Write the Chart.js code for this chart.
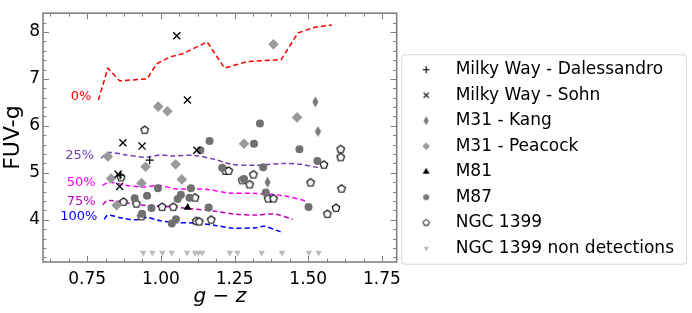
<!DOCTYPE html>
<html>
<head>
<meta charset="utf-8">
<script src="https://cdn.jsdelivr.net/npm/chart.js@4.4.0/dist/chart.umd.min.js"></script>
<style>
  html, body { margin: 0; padding: 0; background: #fff; }
  #wrap { width: 692px; height: 313px; }
</style>
</head>
<body>
<div id="wrap"><canvas id="myChart"></canvas></div>
<script>
// values: g-z (x) and FUV-g (y)
const dalessandroX = [0.862, 0.962]
const dalessandroY = [4.95, 5.27]

const sohnX = [1.054, 1.090, 0.871, 0.936, 1.122, 0.860, 0.855]
const sohnY = [7.92, 6.55, 5.64, 5.57, 5.48, 4.71, 4.97]

const kangX = [1.524, 1.533, 1.362]
const kangY = [6.51, 5.88, 4.80]

const peacockX = [1.382, 0.991, 1.022, 0.820, 0.948, 1.050, 0.831, 0.934, 1.071, 1.462, 1.282, 0.850]
const peacockY = [7.74, 6.41, 6.31, 5.35, 5.13, 5.18, 4.88, 4.78, 4.86, 6.18, 5.62, 4.31]

const m81X = [1.091]
const m81Y = [4.26]

const m87X = [1.165, 1.134, 1.336, 1.316, 1.470, 1.531, 1.347, 1.208, 1.282, 1.356, 1.501,
              0.990, 0.911, 0.953, 0.968, 0.936, 1.037, 1.051, 1.057, 1.068, 1.102, 1.097, 1.162]
const m87Y = [5.68, 5.48, 6.05, 5.62, 5.50, 5.25, 5.12, 5.11, 4.87, 4.58, 4.27,
              4.67, 4.46, 4.51, 4.25, 4.13, 3.92, 4.01, 4.44, 4.53, 4.67, 4.47, 4.26]

const ngcX = [0.945, 1.610, 1.610, 1.553, 1.508, 1.613, 1.314, 1.276, 1.301, 1.364, 1.382, 1.565, 1.594,
              1.219, 1.230, 0.865, 0.873, 0.917, 0.934, 1.004, 1.042, 1.116, 1.120, 1.130, 1.171]
const ngcY = [5.91, 5.50, 5.33, 5.17, 4.79, 4.66, 4.96, 4.84, 4.75, 4.45, 4.45, 4.12, 4.25,
              5.04, 5.04, 4.90, 4.38, 4.34, 4.07, 4.27, 4.27, 4.47, 3.97, 3.96, 4.00]

const nonDetX = [0.940, 0.971, 1.005, 1.037, 1.089, 1.116, 1.127, 1.140, 1.234, 1.260, 1.342, 1.411, 1.502, 1.535]
const nonDetY = [3.30, 3.30, 3.30, 3.30, 3.30, 3.30, 3.30, 3.30, 3.30, 3.30, 3.30, 3.30, 3.30, 3.30]

// completeness curves
const curveLabels = ['0%', '25%', '50%', '75%', '100%']
const curve0X = [0.788, 0.820, 0.860, 0.953, 0.985, 1.031, 1.076, 1.157, 1.216, 1.293, 1.408, 1.465, 1.522, 1.580]
const curve0Y = [6.55, 7.23, 6.96, 7.00, 7.32, 7.47, 7.54, 7.79, 7.23, 7.37, 7.41, 7.98, 8.10, 8.15]
const curve25X = [0.797, 0.820, 0.883, 0.951, 0.997, 1.037, 1.116, 1.185, 1.242, 1.322, 1.419, 1.476, 1.533]
const curve25Y = [5.31, 5.43, 5.38, 5.33, 5.38, 5.36, 5.37, 5.28, 5.18, 5.16, 5.20, 5.18, 5.11]
const curve50X = [0.802, 0.825, 0.883, 0.939, 0.997, 1.048, 1.151, 1.230, 1.322, 1.419, 1.493]
const curve50Y = [4.73, 4.80, 4.73, 4.70, 4.73, 4.66, 4.65, 4.57, 4.56, 4.51, 4.40]
const curve75X = [0.802, 0.820, 0.883, 0.951, 0.997, 1.093, 1.185, 1.253, 1.322, 1.385, 1.448]
const curve75Y = [4.32, 4.41, 4.36, 4.30, 4.29, 4.24, 4.18, 4.12, 4.10, 4.12, 4.01]
const curve100X = [0.808, 0.820, 0.871, 0.917, 0.951, 0.997, 1.048, 1.116, 1.185, 1.242, 1.322, 1.350, 1.408]
const curve100Y = [4.01, 4.10, 4.03, 4.00, 4.05, 3.98, 3.94, 3.93, 3.88, 3.82, 3.83, 3.86, 3.74]

const xTicks = [0.75, 1.00, 1.25, 1.50, 1.75]
const yTicks = [4, 5, 6, 7, 8]

const curveXs = [curve0X, curve25X, curve50X, curve75X, curve100X]
const curveYs = [curve0Y, curve25Y, curve50Y, curve75Y, curve100Y]
const curveColors = ['#ff0000', '#7040b4', '#ff00ff', '#bf00bf', '#0000ff']

const toPts = (xs, ys) => xs.map((x, i) => ({x, y: ys[i]}))

// small canvas markers for shapes Chart.js does not have
function shape(kind, r, fill, stroke, lw) {
  const s = Math.ceil(2 * r + 4)
  const c = document.createElement('canvas')
  c.width = s
  c.height = s
  const g = c.getContext('2d')
  const m = s / 2
  g.beginPath()
  if (kind === 'plus') {
    g.moveTo(m - r, m); g.lineTo(m + r, m); g.moveTo(m, m - r); g.lineTo(m, m + r)
  } else if (kind === 'cross') {
    const d = r * 0.75
    g.moveTo(m - d, m - d); g.lineTo(m + d, m + d); g.moveTo(m + d, m - d); g.lineTo(m - d, m + d)
  } else if (kind === 'thin') {
    g.moveTo(m, m - r); g.lineTo(m + r * 0.55, m); g.lineTo(m, m + r); g.lineTo(m - r * 0.55, m); g.closePath()
  } else if (kind === 'diamond') {
    g.moveTo(m, m - r); g.lineTo(m + r, m); g.lineTo(m, m + r); g.lineTo(m - r, m); g.closePath()
  } else if (kind === 'circle') {
    g.arc(m, m, r, 0, 2 * Math.PI)
  } else {
    const n = kind === 'pentagon' ? 5 : 3
    const a0 = kind === 'triDown' ? Math.PI / 2 : -Math.PI / 2
    for (let i = 0; i < n; i++) {
      const a = a0 + i * 2 * Math.PI / n
      g.lineTo(m + r * Math.cos(a), m + r * Math.sin(a))
    }
    g.closePath()
  }
  if (fill) { g.fillStyle = fill; g.fill() }
  if (stroke) { g.strokeStyle = stroke; g.lineWidth = lw || 1; g.stroke() }
  return c
}

const legendMarks = [
  shape('plus', 3.5, null, '#000', 1.2),
  shape('cross', 3.5, null, '#000', 1.2),
  shape('thin', 4.5, '#777', null),
  shape('diamond', 3.8, '#999', null),
  shape('triUp', 4, '#000', null),
  shape('circle', 3, '#777', null),
  shape('pentagon', 3.3, '#fff', '#000', 1),
  shape('triDown', 3.2, '#bbb', null)
]

const scatterSets = [
  {label: 'Milky Way - Dalessandro', data: toPts(dalessandroX, dalessandroY),
   pointStyle: 'cross', pointRadius: 4, borderColor: '#000', backgroundColor: '#000', pointBorderWidth: 1.3},
  {label: 'Milky Way - Sohn', data: toPts(sohnX, sohnY),
   pointStyle: 'crossRot', pointRadius: 5, borderColor: '#000', backgroundColor: '#000', pointBorderWidth: 1.3},
  {label: 'M31 - Kang', data: toPts(kangX, kangY),
   pointStyle: shape('thin', 5.5, '#777', null), pointRadius: 5, borderColor: '#777', backgroundColor: '#777'},
  {label: 'M31 - Peacock', data: toPts(peacockX, peacockY),
   pointStyle: 'rectRot', pointRadius: 5.3, borderColor: '#999', backgroundColor: '#999', pointBorderWidth: 0},
  {label: 'M81', data: toPts(m81X, m81Y),
   pointStyle: 'triangle', pointRadius: 4.5, borderColor: '#000', backgroundColor: '#000', pointBorderWidth: 0},
  {label: 'M87', data: toPts(m87X, m87Y),
   pointStyle: 'circle', pointRadius: 4, borderColor: '#707070', backgroundColor: '#707070', pointBorderWidth: 0},
  {label: 'NGC 1399', data: toPts(ngcX, ngcY),
   pointStyle: shape('pentagon', 4, '#fff', '#000', 1.1), pointRadius: 4, borderColor: '#000', backgroundColor: '#fff'},
  {label: 'NGC 1399 non detections', data: toPts(nonDetX, nonDetY),
   pointStyle: 'triangle', rotation: 180, pointRadius: 3.8, borderColor: '#bbb', backgroundColor: '#bbb', pointBorderWidth: 0}
]

const curveSets = curveXs.map((xs, i) => ({
  label: curveLabels[i],
  data: toPts(xs, curveYs[i]),
  showLine: true,
  borderColor: curveColors[i],
  borderWidth: 1.5,
  borderDash: [5, 3],
  pointRadius: 0,
  tension: i === 0 ? 0 : 0.3,
  fill: false
}))

const font = 'DejaVu Sans'

// frame, inward ticks on four sides, curve labels, legend box
const framePlugin = {
  id: 'frame',
  afterDatasetsDraw(chart) {
    const {ctx, chartArea: a, scales: {x, y}} = chart
    ctx.save()
    ctx.strokeStyle = '#808080'
    ctx.lineWidth = 1
    const majorLen = 6, minorLen = 3.5
    ctx.beginPath()
    for (let v = 0.625; v < 1.8; v += 0.0625) {
      const px = Math.round(x.getPixelForValue(v)) + 0.5
      const len = xTicks.some(t => Math.abs(t - v) < 1e-6) ? majorLen : minorLen
      ctx.moveTo(px, a.bottom); ctx.lineTo(px, a.bottom - len)
      ctx.moveTo(px, a.top); ctx.lineTo(px, a.top + len)
    }
    for (let v = 3.2; v < 8.4; v += 0.2) {
      const py = Math.round(y.getPixelForValue(v)) + 0.5
      const len = yTicks.some(t => Math.abs(t - v) < 1e-6) ? majorLen : minorLen
      ctx.moveTo(a.left, py); ctx.lineTo(a.left + len, py)
      ctx.moveTo(a.right, py); ctx.lineTo(a.right - len, py)
    }
    ctx.stroke()
    ctx.lineWidth = 1.6
    ctx.strokeRect(a.left, a.top, a.right - a.left, a.bottom - a.top)

    ctx.font = '13px ' + font
    ctx.textAlign = 'right'
    ctx.textBaseline = 'middle'
    curveXs.forEach((xs, i) => {
      ctx.fillStyle = curveColors[i]
      ctx.fillText(curveLabels[i], x.getPixelForValue(xs[0]) - 7, y.getPixelForValue(curveYs[i][0]) - 3)
    })
    ctx.restore()
  },
  afterDraw(chart) {
    const boxes = chart.legend.legendHitBoxes
    if (!boxes || !boxes.length) return
    const {ctx} = chart
    const first = boxes[0], last = boxes[boxes.length - 1]
    const l = first.left - 4, t = first.top - 7
    const r = chart.width - 6, b = last.top + last.height + 7
    ctx.save()
    ctx.strokeStyle = '#d6d6d6'
    ctx.lineWidth = 1
    ctx.beginPath()
    ctx.roundRect(l + 0.5, t + 0.5, r - l, b - t, 3)
    ctx.stroke()
    ctx.restore()
  }
}

new Chart('myChart', {
  type: 'scatter',
  data: {datasets: [...scatterSets, ...curveSets]},
  options: {
    responsive: true,
    maintainAspectRatio: false,
    animation: false,
    devicePixelRatio: 1,
    layout: {padding: {top: 5, right: 8, left: 0, bottom: 0}},
    plugins: {
      tooltip: {enabled: false},
      legend: {
        position: 'right',
        maxWidth: 320,
        labels: {
          usePointStyle: true,
          pointStyleWidth: 42,
          padding: 8.5,
          color: '#000',
          font: {family: font, size: 17},
          generateLabels(chart) {
            return Chart.defaults.plugins.legend.labels.generateLabels(chart)
              .filter(it => it.datasetIndex < scatterSets.length)
              .map(it => Object.assign(it, {pointStyle: legendMarks[it.datasetIndex], rotation: 0}))
          }
        }
      }
    },
    scales: {
      x: {
        type: 'linear',
        min: 0.6,
        max: 1.8,
        afterBuildTicks: s => { s.ticks = xTicks.map(v => ({value: v})) },
        afterFit: s => { s.height = 51 },
        grid: {display: false, drawTicks: false},
        border: {display: false},
        ticks: {callback: v => v.toFixed(2), color: '#000', font: {family: font, size: 17}, padding: 7, maxRotation: 0},
        title: {display: true, text: 'g − z', color: '#000', font: {family: font, size: 20, style: 'italic', lineHeight: 1}, padding: {top: 0, bottom: 6}}
      },
      y: {
        type: 'linear',
        min: 3.1,
        max: 8.4,
        afterBuildTicks: s => { s.ticks = yTicks.map(v => ({value: v})) },
        afterFit: s => { s.width = 43 },
        grid: {display: false, drawTicks: false},
        border: {display: false},
        ticks: {callback: v => String(v), color: '#000', font: {family: font, size: 17}, padding: 3},
        title: {display: true, text: 'FUV-g', color: '#000', font: {family: font, size: 22, lineHeight: 1}, padding: {top: 2, bottom: 0}}
      }
    }
  },
  plugins: [framePlugin]
})
</script>
</body>
</html>
